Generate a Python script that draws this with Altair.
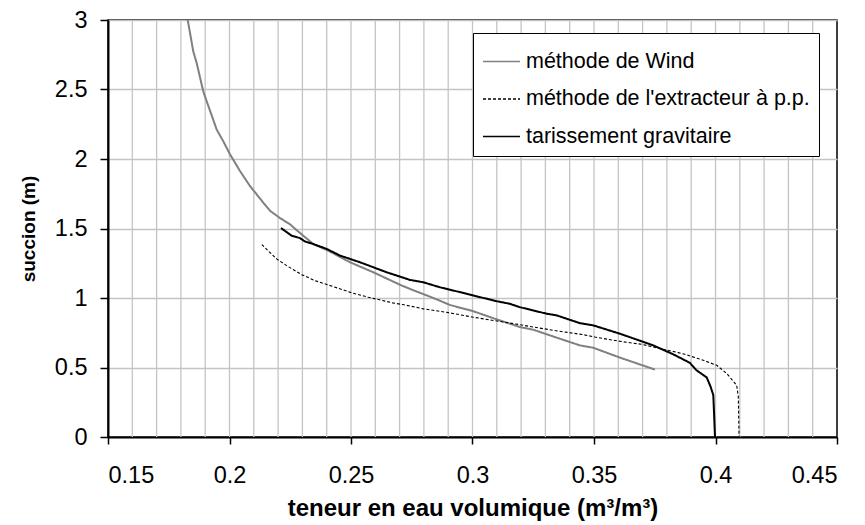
import altair as alt
import pandas as pd

# ---- data ----
wind_theta = [0.1828, 0.1851, 0.1865, 0.1892, 0.1906, 0.1947, 0.1974, 0.2002, 0.2043, 0.2084,
              0.2133, 0.2167, 0.2208, 0.2249, 0.2275, 0.2345, 0.2407, 0.2496, 0.2592, 0.2702,
              0.2743, 0.2839, 0.2907, 0.3003, 0.3100, 0.3195, 0.3250, 0.3346, 0.3442, 0.3497,
              0.3607, 0.3751]
wind_succ = [3.00, 2.774, 2.69, 2.487, 2.416, 2.213, 2.129, 2.034, 1.914, 1.806,
             1.699, 1.627, 1.575, 1.530, 1.490, 1.388, 1.340, 1.257, 1.185, 1.095,
             1.065, 1.000, 0.950, 0.905, 0.846, 0.791, 0.772, 0.715, 0.659, 0.642,
             0.571, 0.485]

extr_theta = [0.2133, 0.2194, 0.2235, 0.2297, 0.2352, 0.2427, 0.2509, 0.2571, 0.2671, 0.2719,
              0.2798, 0.2900, 0.3003, 0.3195, 0.3250, 0.3353, 0.3456, 0.3504, 0.3600, 0.3696,
              0.3772, 0.3847, 0.3874, 0.3950, 0.4005, 0.4046, 0.4087, 0.4094, 0.4097]
extr_succ = [1.384, 1.281, 1.233, 1.168, 1.125, 1.082, 1.034, 1.006, 0.965, 0.951,
             0.922, 0.895, 0.862, 0.808, 0.791, 0.762, 0.736, 0.719, 0.690, 0.667,
             0.636, 0.607, 0.595, 0.552, 0.516, 0.457, 0.373, 0.289, 0.0]

tar_theta = [0.2212, 0.2256, 0.2290, 0.2310, 0.2345, 0.2400, 0.2455, 0.2537, 0.2647, 0.2743,
             0.2798, 0.2866, 0.2949, 0.3003, 0.3100, 0.3154, 0.3195, 0.3305, 0.3346, 0.3442,
             0.3497, 0.3607, 0.3744, 0.3826, 0.3895, 0.3922, 0.3964, 0.3980, 0.3991, 0.3998]
tar_succ = [1.503, 1.448, 1.431, 1.407, 1.388, 1.353, 1.305, 1.257, 1.185, 1.130,
            1.113, 1.077, 1.042, 1.018, 0.977, 0.958, 0.934, 0.887, 0.875, 0.819,
            0.803, 0.743, 0.659, 0.595, 0.533, 0.480, 0.428, 0.361, 0.301, 0.0]

series_names = ["méthode de Wind", "méthode de l'extracteur à p.p.", "tarissement gravitaire"]
series_colors = ["#808080", "#000000", "#010101"]
series_dash = [[1, 0], [3, 2], [1, 0]]
series_widths = [2, 1.1, 2]

x_ticks = [0.15, 0.2, 0.25, 0.3, 0.35, 0.4, 0.45]
y_ticks = [0, 0.5, 1, 1.5, 2, 2.5, 3]
x_grid = [0.16, 0.17, 0.18, 0.19, 0.20, 0.21, 0.22, 0.23, 0.24, 0.25, 0.26, 0.27, 0.28, 0.29,
          0.30, 0.31, 0.32, 0.33, 0.34, 0.35, 0.36, 0.37, 0.38, 0.39, 0.40, 0.41, 0.42, 0.43, 0.44]

rows = []
for name, xs, ys in zip(series_names, [wind_theta, extr_theta, tar_theta], [wind_succ, extr_succ, tar_succ]):
    for i, (a, b) in enumerate(zip(xs, ys)):
        rows.append({"serie": name, "theta": a, "succion": b, "i": i})
df = pd.DataFrame(rows)
grid_df = pd.DataFrame({"g": x_grid})

FONT = "Liberation Sans"
xscale = alt.Scale(domain=[0.15, 0.45], nice=False, zero=False)
yscale = alt.Scale(domain=[0, 3], nice=False, zero=False)
x_axis = alt.Axis(values=x_ticks, format="~g", grid=False,
                  title="teneur en eau volumique (m³/m³)",
                  tickSize=7, labelPadding=19, titlePadding=10)
y_axis = alt.Axis(values=y_ticks, format="~g", grid=True,
                  title="succion (m)", tickSize=8, labelPadding=13, titlePadding=16)

vgrid = alt.Chart(grid_df).mark_rule(color="#c4c4c4", strokeWidth=1.3).encode(
    x=alt.X("g:Q", scale=xscale, axis=x_axis, title="teneur en eau volumique (m³/m³)")
)

color_enc = alt.Color("serie:N", sort=series_names,
                      scale=alt.Scale(domain=series_names, range=series_colors),
                      legend=alt.Legend(title=None, orient="none", legendX=365, legendY=13,
                                        symbolType="stroke", symbolSize=1369,
                                        labelFontSize=21.5, labelFont=FONT, labelColor="#000000",
                                        labelLimit=0,
                                        strokeColor="#000000", fillColor="#ffffff",
                                        padding=9, rowPadding=7.5, labelOffset=5,
                                        symbolStrokeWidth=1.6))
dash_enc = alt.StrokeDash("serie:N", sort=series_names,
                          scale=alt.Scale(domain=series_names, range=series_dash),
                          legend=alt.Legend(title=None))

layers = [vgrid]
for name, w in zip(series_names, series_widths):
    layers.append(
        alt.Chart(df).transform_filter(alt.datum.serie == name)
        .mark_line(clip=True, strokeWidth=w)
        .encode(
            x=alt.X("theta:Q", scale=xscale, axis=x_axis),
            y=alt.Y("succion:Q", scale=yscale, axis=y_axis),
            order="i:Q",
            color=color_enc,
            strokeDash=dash_enc,
        )
    )

chart = alt.layer(*layers).properties(
    width=729, height=417,
    autosize=alt.AutoSizeParams(type="none"),
    padding={"left": 100, "top": 12, "right": 20, "bottom": 86},
).configure_view(
    stroke="#000000", strokeWidth=1.5
).configure_axis(
    labelFont=FONT, labelFontSize=23.5, labelColor="#000000",
    titleFont=FONT, titleFontSize=21, titleFontWeight="bold", titleColor="#000000",
    domainColor="#000000", domainWidth=2, tickColor="#000000", tickWidth=1.5,
    gridColor="#c4c4c4", gridWidth=1.3
).configure_axisY(
    titleFontSize=19
).configure_axisX(
    titleFontSize=24
)

chart.save("out.html", embed_options={"renderer": "svg", "actions": False})
